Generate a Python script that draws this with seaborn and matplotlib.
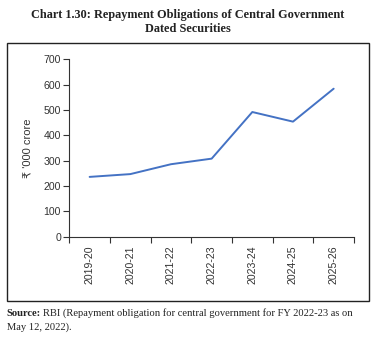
import matplotlib
matplotlib.use("Agg")
import matplotlib.pyplot as plt
import seaborn as sns
import pandas as pd
from matplotlib.patches import Rectangle
from matplotlib.ticker import FixedLocator

years = ["2019-20", "2020-21", "2021-22", "2022-23", "2023-24", "2024-25", "2025-26"]
obligations = [236, 247, 286, 308, 492, 454, 584]
y_ticks = [0, 100, 200, 300, 400, 500, 600, 700]

sns.set_theme(style="white")
plt.rcParams['font.family'] = ['Liberation Sans', 'DejaVu Sans']

df = pd.DataFrame({"year": years, "value": obligations})

fig = plt.figure(figsize=(3.75, 3.38), dpi=100)
ax = fig.add_axes([69.3/375, 1-236.7/338, (354-69.3)/375, (236.7-59.3)/338])

sns.lineplot(data=df, x="year", y="value", ax=ax, color="#4472C4", linewidth=1.4, sort=False)

ax.set_xlim(-0.5, len(years)-0.5)
ax.set_ylim(0, 700)
ax.set_yticks(y_ticks)
ax.set_yticklabels([str(v) for v in y_ticks], fontsize=7.6, color="#333333")
ax.set_xticks(range(len(years)))
ax.set_xticklabels(years, rotation=90, fontsize=7.6, color="#333333")
ax.xaxis.set_minor_locator(FixedLocator([i - 0.5 for i in range(len(years)+1)]))
ax.tick_params(axis='x', which='major', length=0, pad=6)
ax.tick_params(axis='x', which='minor', length=4, width=0.8, color="#333333", bottom=True)
ax.tick_params(axis='y', which='major', length=4, width=0.8, color="#333333", left=True, pad=2)
ax.set_xlabel("")
ax.set_ylabel("₹ '000 crore", fontsize=8, color="#333333", labelpad=8)
for s in ["top", "right"]:
    ax.spines[s].set_visible(False)
for s in ["left", "bottom"]:
    ax.spines[s].set_color("#333333")
    ax.spines[s].set_linewidth(0.8)

# frame
fig.patches.append(Rectangle((6.7/375, 1-301/338), (369.3-6.7)/375, (301-42.7)/338,
                             transform=fig.transFigure, fill=False, edgecolor="#222222", linewidth=1.0))

serif = ['Liberation Serif', 'DejaVu Serif']
fig.text(0.5, 1-15/338, "Chart 1.30: Repayment Obligations of Central Government",
         ha="center", va="center", fontsize=8.8, fontweight="bold", family=serif, color="#222222")
fig.text(0.5, 1-29/338, "Dated Securities",
         ha="center", va="center", fontsize=8.8, fontweight="bold", family=serif, color="#222222")

fig.canvas.draw()
r = fig.canvas.get_renderer()
t1 = fig.text(6.7/375, 1-313/338, "Source:", ha="left", va="center", fontsize=7.6,
              fontweight="bold", family=serif, color="#222222")
bb = t1.get_window_extent(renderer=r)
x2 = (bb.x1 + 2) / fig.bbox.width
fig.text(x2, 1-313/338, "RBI (Repayment obligation for central government for FY 2022-23 as on",
         ha="left", va="center", fontsize=7.6, family=serif, color="#222222")
fig.text(6.7/375, 1-327/338, "May 12, 2022).", ha="left", va="center", fontsize=7.6,
         family=serif, color="#222222")

fig.savefig("out.png", dpi=100)
